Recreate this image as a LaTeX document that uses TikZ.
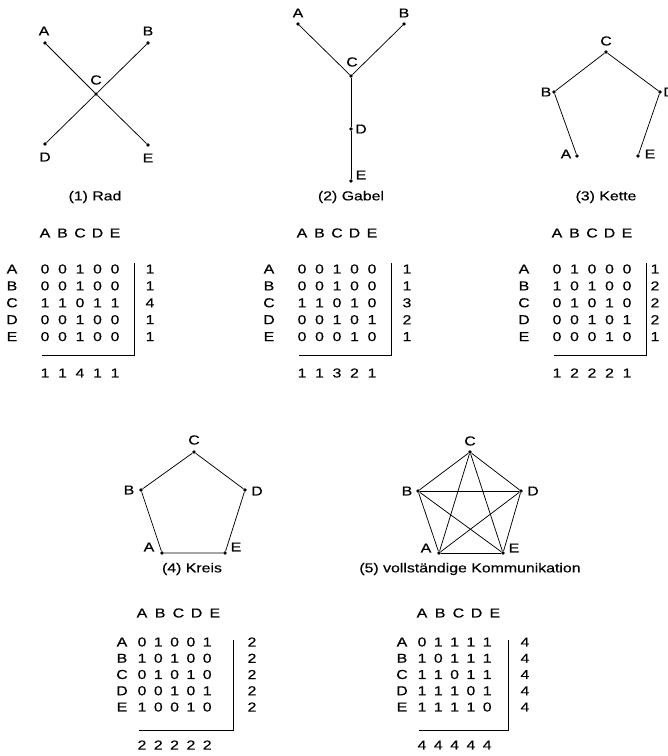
\documentclass[tikz,border=0pt]{standalone}
\usepackage{fontspec}
\setmainfont{Liberation Sans}[FakeStretch=1.22,FakeBold=0.35]
\begin{document}
\begin{tikzpicture}[x=1pt,y=-1pt,
  vtx/.style={circle,fill=black,inner sep=0pt,minimum size=3.8pt},
  lbl/.style={font=\fontsize{13}{13}\selectfont,inner sep=0pt},
  edge/.style={line width=0.75pt},
  rule/.style={line width=0.75pt}]
\useasboundingbox (0,0) rectangle (668,756);
% ---------- matrix macro ----------
\newcommand\amat[5]{%
\begin{scope}[shift={(#2,#3)}]
\foreach \h [count=\j from 0] in {A,B,C,D,E}
  \node[lbl] (#1h\j) at (\j*\mhdx,\mhy) {\h};
\foreach \r/\v/\d [count=\i from 0] in {#4} {
  \node[lbl] (#1r\i) at (\mrx,\i*\mdy) {\r};
  \foreach \e [count=\j from 0] in \v
    \node[lbl] (#1e\i\j) at (\j*\mdx,\i*\mdy) {\e};
  \node[lbl] (#1d\i) at (\mdgx,\i*\mdy) {\d};
}
\foreach \s [count=\j from 0] in {#5}
  \node[lbl] (#1s\j) at (\j*\mdx,\msy) {\s};
\coordinate (#1lt) at (\mlx,\mlt);
\coordinate (#1lc) at (\mlx,\mlb);
\coordinate (#1lb) at (-3,\mlb);
\draw[rule] (#1lt) -- (#1lc) -- (#1lb);
\end{scope}}
% ---------- graph 1: Rad ----------
\node[vtx] (g1A) at (45,43) {};
\node[vtx] (g1B) at (148,43) {};
\node[vtx] (g1C) at (96,94) {};
\node[vtx] (g1D) at (45,144) {};
\node[vtx] (g1E) at (148,145) {};
\draw[edge] (g1A) -- (g1C) -- (g1E);
\draw[edge] (g1B) -- (g1C) -- (g1D);
\node[lbl] (g1Al) at (44,31) {A};
\node[lbl] (g1Bl) at (148,31) {B};
\node[lbl] (g1Cl) at (96,80) {C};
\node[lbl] (g1Dl) at (45,157) {D};
\node[lbl] (g1El) at (148,158) {E};
\node[lbl] (cap1) at (95,197) {(1) Rad};
% ---------- graph 2: Gabel ----------
\node[vtx] (g2A) at (298,24) {};
\node[vtx] (g2B) at (404,24) {};
\node[vtx] (g2C) at (351,76) {};
\node[vtx] (g2D) at (351,129) {};
\node[vtx] (g2E) at (351,181) {};
\draw[edge] (g2A) -- (g2C) -- (g2B);
\draw[edge] (g2C) -- (g2D) -- (g2E);
\node[lbl] (g2Al) at (298,13) {A};
\node[lbl] (g2Bl) at (404,13) {B};
\node[lbl] (g2Cl) at (352,62) {C};
\node[lbl] (g2Dl) at (361,129) {D};
\node[lbl] (g2El) at (361,175) {E};
\node[lbl] (cap2) at (351,197) {(2) Gabel};
% ---------- graph 3: Kette ----------
\node[vtx] (g3C) at (606,52) {};
\node[vtx] (g3B) at (554,92) {};
\node[vtx] (g3D) at (660,92) {};
\node[vtx] (g3A) at (577,156) {};
\node[vtx] (g3E) at (638,156) {};
\draw[edge] (g3A) -- (g3B) -- (g3C) -- (g3D) -- (g3E);
\node[lbl] (g3Cl) at (606,41) {C};
\node[lbl] (g3Bl) at (546,92) {B};
\node[lbl] (g3Dl) at (669,92) {D};
\node[lbl] (g3Al) at (566,154) {A};
\node[lbl] (g3El) at (650,154) {E};
\node[lbl] (cap3) at (606,197) {(3) Kette};
% ---------- top matrices ----------
\def\mdx{17.5}\def\mhdx{17.5}\def\mdy{16.9}\def\mhy{-36}\def\mrx{-33}\def\msy{104}
\def\mlx{89}\def\mlt{-6}\def\mlb{86}
\def\mdgx{105}
\amat{m1}{45}{269}{A/{0,0,1,0,0}/1,B/{0,0,1,0,0}/1,C/{1,1,0,1,1}/4,D/{0,0,1,0,0}/1,E/{0,0,1,0,0}/1}{1,1,4,1,1}
\amat{m2}{302}{269}{A/{0,0,1,0,0}/1,B/{0,0,1,0,0}/1,C/{1,1,0,1,0}/3,D/{0,0,1,0,1}/2,E/{0,0,0,1,0}/1}{1,1,3,2,1}
\def\mdgx{98}
\amat{m3}{557}{269}{A/{0,1,0,0,0}/1,B/{1,0,1,0,0}/2,C/{0,1,0,1,0}/2,D/{0,0,1,0,1}/2,E/{0,0,0,1,0}/1}{1,2,2,2,1}
% ---------- graph 4: Kreis ----------
\node[vtx] (g4C) at (194,452) {};
\node[vtx] (g4B) at (141,490) {};
\node[vtx] (g4D) at (245,490) {};
\node[vtx] (g4A) at (162,553) {};
\node[vtx] (g4E) at (225,553) {};
\draw[edge] (g4A) -- (g4B) -- (g4C) -- (g4D) -- (g4E) -- (g4A);
\node[lbl] (g4Cl) at (194,440) {C};
\node[lbl] (g4Bl) at (129,490) {B};
\node[lbl] (g4Dl) at (257,491) {D};
\node[lbl] (g4Al) at (149,547) {A};
\node[lbl] (g4El) at (236,547) {E};
\node[lbl] (cap4) at (192,569) {(4) Kreis};
% ---------- graph 5: vollstaendige Kommunikation ----------
\node[vtx] (g5C) at (470,452) {};
\node[vtx] (g5B) at (418,491) {};
\node[vtx] (g5D) at (521,491) {};
\node[vtx] (g5A) at (439,553) {};
\node[vtx] (g5E) at (503,553) {};
\foreach \p/\q in {A/B,A/C,A/D,A/E,B/C,B/D,B/E,C/D,C/E,D/E}
  \draw[edge] (g5\p) -- (g5\q);
\node[lbl] (g5Cl) at (470,441) {C};
\node[lbl] (g5Bl) at (407,491) {B};
\node[lbl] (g5Dl) at (533,491) {D};
\node[lbl] (g5Al) at (426,548) {A};
\node[lbl] (g5El) at (514,548) {E};
\node[lbl] (cap5) at (470,569) {(5) vollständige Kommunikation};
% ---------- bottom matrices ----------
\def\mdx{16.3}\def\mhdx{18.2}\def\mdy{16.25}\def\mhy{-29}\def\mrx{-20}\def\msy{103}
\def\mlt{-2}\def\mlb{88}
\def\mlx{91}\def\mdgx{110}
\amat{m4}{142}{642}{A/{0,1,0,0,1}/2,B/{1,0,1,0,0}/2,C/{0,1,0,1,0}/2,D/{0,0,1,0,1}/2,E/{1,0,0,1,0}/2}{2,2,2,2,2}
\def\mlx{86}\def\mdgx{103}
\amat{m5}{422}{642}{A/{0,1,1,1,1}/4,B/{1,0,1,1,1}/4,C/{1,1,0,1,1}/4,D/{1,1,1,0,1}/4,E/{1,1,1,1,0}/4}{4,4,4,4,4}
\end{tikzpicture}
\end{document}
